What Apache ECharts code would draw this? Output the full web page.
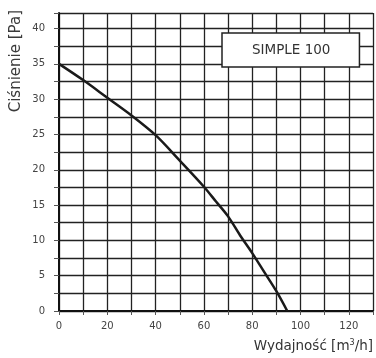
<!DOCTYPE html>
<html>
<head>
<meta charset="utf-8">
<script src="https://cdn.jsdelivr.net/npm/echarts@6/dist/echarts.min.js"></script>
<style>
html, body { margin: 0; padding: 0; background: #fff; }
#chart { width: 376px; height: 358px; }
</style>
</head>
<body>
<div id="chart"></div>
<script>
// flow [m3/h] vs pressure [Pa]
var flow = [0, 10, 20, 30, 40, 50, 60, 65, 70, 75, 80, 85, 90, 94.5];
var pressure = [35, 32.7, 30.2, 27.7, 24.9, 21.3, 17.6, 15.5, 13.4, 10.7, 8.2, 5.5, 2.8, 0];
var seriesName = 'SIMPLE 100';

var points = [];
for (var i = 0; i < flow.length; i++) {
	points.push([flow[i], pressure[i]]);
}

var font = 'DejaVu Sans';
var chart = echarts.init(document.getElementById('chart'));
var option = {
	animation : false,
	textStyle : { fontFamily : font },
	grid : {
		left : 59,
		right : 0,
		top : 13,
		bottom : 47
	},
	legend : {
		data : [ seriesName ],
		left : 222,
		top : 33,
		icon : 'none',
		itemWidth : 0,
		itemHeight : 0,
		itemGap : 0,
		padding : [ 10, 29, 10, 25 ],
		backgroundColor : '#fff',
		borderColor : '#222',
		borderWidth : 1.5,
		borderRadius : 0,
		textStyle : { fontFamily : font, fontSize : 13.5, color : '#333' }
	},
	xAxis : {
		type : 'value',
		min : 0,
		max : 130,
		interval : 10,
		name : 'Wydajność [m{sup|3}/h]',
		nameLocation : 'end',
		nameGap : 0,
		nameTextStyle : {
			fontFamily : font,
			fontSize : 13.5,
			color : '#333',
			align : 'right',
			verticalAlign : 'top',
			padding : [ 28, 0, 0, 0 ],
			rich : {
				sup : { fontSize : 8, color : '#333', padding : [ 0, 0, 7, 0 ] }
			}
		},
		axisLine : { show : true, onZero : false, lineStyle : { color : '#111', width : 2 } },
		axisTick : { show : true, length : 4, interval : 1, lineStyle : { color : '#555' } },
		axisLabel : {
			margin : 10,
			fontSize : 10,
			color : '#444',
			formatter : function(v) { return v % 20 === 0 && v < 130 ? v : ''; }
		},
		splitLine : { show : true, lineStyle : { color : '#222', width : 1.3 } }
	},
	yAxis : {
		type : 'value',
		min : 0,
		max : 42.2,
		interval : 2.5,
		name : 'Ciśnienie [Pa]',
		nameLocation : 'end',
		nameRotate : 90,
		nameGap : 3,
		nameTextStyle : {
			fontFamily : font,
			fontSize : 15,
			color : '#3a3a3a',
			align : 'right',
			verticalAlign : 'bottom',
			padding : [ 0, 0, 35, 0 ]
		},
		axisLine : { show : true, lineStyle : { color : '#111', width : 2 } },
		axisTick : { show : true, length : 5, interval : 1, lineStyle : { color : '#555' } },
		axisLabel : {
			margin : 14,
			fontSize : 10,
			color : '#444',
			formatter : function(v) { return v % 5 === 0 ? v : ''; }
		},
		splitLine : { show : true, lineStyle : { color : '#222', width : 1.3 } }
	},
	series : [
		{
			name : seriesName,
			type : 'line',
			data : points,
			smooth : 0.3,
			showSymbol : false,
			lineStyle : { color : '#1a1a1a', width : 2.5 },
			itemStyle : { color : '#1a1a1a' }
		}
	]
};
chart.setOption(option);
window.onresize = chart.resize;
</script>
</body>
</html>
